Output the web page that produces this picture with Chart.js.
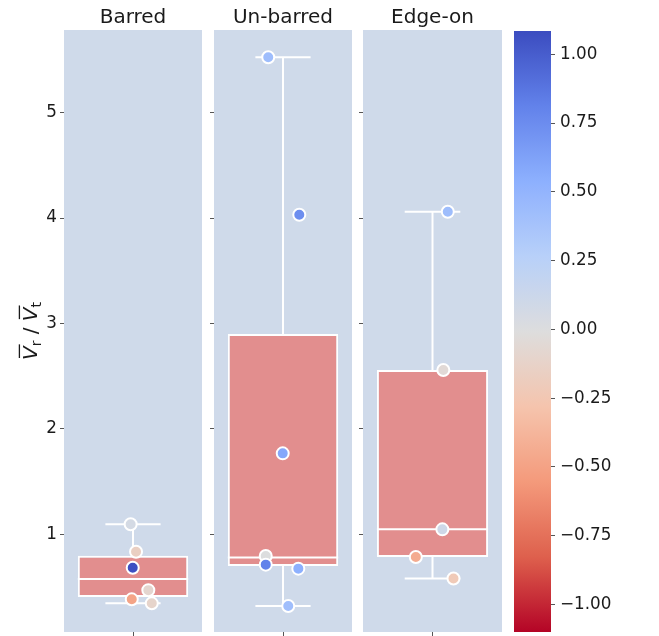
<!DOCTYPE html>
<html>
<head>
<meta charset="utf-8">
<script src="https://cdn.jsdelivr.net/npm/chart.js@4.4.1/dist/chart.umd.min.js"></script>
<style>
  body { margin: 0; background: #fff; }
  #wrap { position: relative; width: 659px; height: 636px; overflow: hidden; }
  #wrap canvas { position: absolute; top: 0; }
</style>
</head>
<body>
<div id="wrap">
  <canvas id="panel-0" width="204" height="636" style="left:0"></canvas>
  <canvas id="panel-1" width="150" height="636" style="left:204px"></canvas>
  <canvas id="panel-2" width="150" height="636" style="left:353px"></canvas>
  <canvas id="colorbar" width="159" height="636" style="left:500px"></canvas>
</div>
<script>
const groups = ['Barred', 'Un-barred', 'Edge-on'];
const yTicks = [1, 2, 3, 4, 5];
const yMin = 0.073, yMax = 5.785;

// box statistics per group
const whiskLow = [0.345, 0.32, 0.58];
const q1 = [0.405, 0.70, 0.785];
const median = [0.577, 0.78, 1.047];
const q3 = [0.797, 2.90, 2.559];
const whiskHigh = [1.095, 5.526, 4.06];

// single galaxies: ratio, horizontal jitter, delta MS
const barredRatio = [1.095, 0.835, 0.683, 0.47, 0.383, 0.345];
const barredJitter = [-0.017, 0.022, -0.002, 0.111, -0.009, 0.136];
const barredMS = [0.06, -0.16, 1.07, -0.09, -0.49, -0.11];

const unbarredRatio = [5.526, 4.032, 1.768, 0.794, 0.712, 0.674, 0.32];
const unbarredJitter = [-0.107, 0.118, -0.002, -0.125, -0.125, 0.111, 0.038];
const unbarredMS = [0.43, 0.74, 0.59, 0.0, 0.81, 0.54, 0.42];

const edgeRatio = [4.06, 2.559, 1.047, 0.785, 0.58];
const edgeJitter = [0.11, 0.078, 0.071, -0.12, 0.151];
const edgeMS = [0.43, -0.05, 0.1, -0.44, -0.22];

const cbTicks = [-1, -0.75, -0.5, -0.25, 0, 0.25, 0.5, 0.75, 1];
const cbMin = -1.1, cbMax = 1.085;

const pointSets = [
  [barredRatio, barredJitter, barredMS],
  [unbarredRatio, unbarredJitter, unbarredMS],
  [edgeRatio, edgeJitter, edgeMS]
];

const FONT = 'DejaVu Sans';
const PANEL_BG = '#cfdaea';
const BOX_FILL = '#e28e8e';
const TICK_COLOR = '#555';
const TEXT_COLOR = '#1a1a1a';

// coolwarm lookup (reversed below so that positive = blue)
const coolwarm = [
  [0, 59, 76, 192], [0.125, 98, 130, 234], [0.25, 141, 176, 254],
  [0.375, 184, 208, 249], [0.5, 221, 221, 221], [0.625, 245, 196, 173],
  [0.75, 244, 154, 123], [0.875, 222, 96, 77], [1, 180, 4, 38]
];

function msColor(v) {
  let p = (cbMax - v) / (cbMax - cbMin);
  p = Math.max(0, Math.min(1, p));
  for (let i = 1; i < coolwarm.length; i++) {
    const a = coolwarm[i - 1], b = coolwarm[i];
    if (p <= b[0]) {
      const f = (p - a[0]) / (b[0] - a[0]);
      const c = [1, 2, 3].map(k => Math.round(a[k] + (b[k] - a[k]) * f));
      return `rgb(${c[0]},${c[1]},${c[2]})`;
    }
  }
  return 'rgb(180,4,38)';
}

// no auto padding for tick labels: chart areas are placed by hand
function noPad(s) {
  s.paddingTop = 0; s.paddingBottom = 0; s.paddingLeft = 0; s.paddingRight = 0;
}

const panelBg = {
  id: 'panelBg',
  beforeDraw(chart) {
    const { ctx, chartArea: a } = chart;
    ctx.save();
    ctx.fillStyle = PANEL_BG;
    ctx.fillRect(a.left, a.top, a.right - a.left, a.bottom - a.top);
    ctx.restore();
  }
};

// y label: V-bar_r / V-bar_t, drawn as text pieces
const yLabel = {
  id: 'yLabel',
  afterDraw(chart) {
    const { ctx, chartArea } = chart;
    const cy = (chartArea.top + chartArea.bottom) / 2;
    const big = 20, small = 14;
    const parts = [
      { t: 'V', font: `italic ${big}px "${FONT}"`, bar: true, dy: 0 },
      { t: 'r', font: `${small}px "${FONT}"`, dy: 4 },
      { t: ' / ', font: `${big}px "${FONT}"`, dy: 0 },
      { t: 'V', font: `italic ${big}px "${FONT}"`, bar: true, dy: 0 },
      { t: 't', font: `${small}px "${FONT}"`, dy: 4 }
    ];
    ctx.save();
    ctx.translate(37, cy);
    ctx.rotate(-Math.PI / 2);
    ctx.fillStyle = TEXT_COLOR;
    ctx.strokeStyle = TEXT_COLOR;
    ctx.textBaseline = 'alphabetic';
    let total = 0;
    parts.forEach(p => { ctx.font = p.font; p.w = ctx.measureText(p.t).width; total += p.w; });
    let x = -total / 2;
    parts.forEach(p => {
      ctx.font = p.font;
      ctx.fillText(p.t, x, p.dy);
      if (p.bar) {
        ctx.lineWidth = 1.3;
        ctx.beginPath();
        ctx.moveTo(x + 2, -big * 0.73 - 3);
        ctx.lineTo(x + p.w + 2, -big * 0.73 - 3);
        ctx.stroke();
      }
      x += p.w;
    });
    ctx.restore();
  }
};

function whiteLine(points) {
  return {
    type: 'line',
    data: points,
    xAxisID: 'x',
    yAxisID: 'y',
    borderColor: '#fff',
    borderWidth: 2,
    pointRadius: 0,
    fill: false,
    tension: 0,
    order: 1
  };
}

function makePanel(i, axisWidth, padRight) {
  const [ratio, jitter, ms] = pointSets[i];
  const pts = ratio.map((r, k) => ({ x: jitter[k], y: r }));
  const cap = 0.2, half = 0.4;
  const plugins = [panelBg];
  if (i === 0) plugins.push(yLabel);

  new Chart(document.getElementById('panel-' + i), {
    type: 'bar',
    data: {
      labels: [groups[i]],
      datasets: [
        {
          type: 'scatter',
          data: pts,
          xAxisID: 'x',
          yAxisID: 'y',
          pointRadius: 6,
          pointHoverRadius: 6,
          pointBorderWidth: 2,
          pointBorderColor: '#fff',
          pointBackgroundColor: ms.map(msColor),
          order: 0
        },
        whiteLine([{ x: 0, y: q3[i] }, { x: 0, y: whiskHigh[i] }]),
        whiteLine([{ x: 0, y: q1[i] }, { x: 0, y: whiskLow[i] }]),
        whiteLine([{ x: -cap, y: whiskHigh[i] }, { x: cap, y: whiskHigh[i] }]),
        whiteLine([{ x: -cap, y: whiskLow[i] }, { x: cap, y: whiskLow[i] }]),
        whiteLine([{ x: -half, y: median[i] }, { x: half, y: median[i] }]),
        {
          type: 'bar',
          data: [[q1[i], q3[i]]],
          xAxisID: 'xb',
          yAxisID: 'y',
          backgroundColor: BOX_FILL,
          borderColor: '#fff',
          borderWidth: 2,
          borderSkipped: false,
          grouped: false,
          barPercentage: 0.8,
          categoryPercentage: 1,
          order: 2
        }
      ]
    },
    options: {
      responsive: false,
      animation: false,
      events: [],
      layout: { autoPadding: false, padding: { left: 0, right: padRight, top: 0, bottom: 0 } },
      plugins: {
        legend: { display: false },
        tooltip: { enabled: false },
        title: {
          display: true,
          fullSize: false,
          text: groups[i],
          color: TEXT_COLOR,
          font: { family: FONT, size: 20, weight: 'normal' },
          padding: { top: 6, bottom: 0 }
        }
      },
      scales: {
        x: {
          type: 'linear', min: -0.5, max: 0.5, offset: false, display: false,
          afterFit: noPad
        },
        xb: {
          type: 'category',
          position: 'bottom',
          offset: true,
          grid: { offset: false, drawOnChartArea: false, drawTicks: true, tickLength: 4, color: TICK_COLOR },
          border: { display: false },
          ticks: { display: false },
          afterFit: s => { noPad(s); s.height = 4; }
        },
        y: {
          type: 'linear',
          min: yMin,
          max: yMax,
          afterBuildTicks: s => { s.ticks = yTicks.map(v => ({ value: v })); },
          ticks: {
            display: i === 0,
            color: TEXT_COLOR,
            padding: 3,
            font: { family: FONT, size: 16.8 }
          },
          grid: { drawOnChartArea: false, drawTicks: true, tickLength: 4, color: TICK_COLOR },
          border: { display: false },
          afterFit: s => { noPad(s); s.width = axisWidth; }
        }
      }
    },
    plugins: plugins
  });
}

makePanel(0, 64, 2);
makePanel(1, 10, 2);
makePanel(2, 10, 1);

// colorbar
const cbLabel = {
  id: 'cbLabel',
  afterDraw(chart) {
    const { ctx, chartArea } = chart;
    ctx.save();
    ctx.translate(637, (chartArea.top + chartArea.bottom) / 2 - 1);
    ctx.rotate(-Math.PI / 2);
    ctx.fillStyle = TEXT_COLOR;
    ctx.font = `19px "${FONT}"`;
    ctx.textAlign = 'center';
    ctx.textBaseline = 'alphabetic';
    ctx.fillText('\u0394MS (dex)', 0, 0);
    ctx.restore();
  }
};

new Chart(document.getElementById('colorbar'), {
  type: 'bar',
  data: {
    labels: [''],
    datasets: [{
      data: [[cbMin, cbMax]],
      backgroundColor: c => {
        const chart = c.chart;
        if (!chart.chartArea) return msColor(0);
        const y = chart.scales.y;
        const top = y.getPixelForValue(cbMax), bottom = y.getPixelForValue(cbMin);
        const g = chart.ctx.createLinearGradient(0, top, 0, bottom);
        const n = 40;
        for (let k = 0; k <= n; k++) {
          const v = cbMax - (k / n) * (cbMax - cbMin);
          g.addColorStop(k / n, msColor(v));
        }
        return g;
      },
      borderWidth: 0,
      barPercentage: 1,
      categoryPercentage: 1
    }]
  },
  options: {
    responsive: false,
    animation: false,
    events: [],
    layout: { autoPadding: false, padding: { left: 14, right: 0, top: 31, bottom: 4 } },
    plugins: { legend: { display: false }, tooltip: { enabled: false } },
    scales: {
      x: { display: false, afterFit: noPad },
      y: {
        position: 'right',
        min: cbMin,
        max: cbMax,
        afterBuildTicks: s => { s.ticks = cbTicks.map(v => ({ value: v })); },
        ticks: {
          color: TEXT_COLOR,
          padding: 5,
          font: { family: FONT, size: 16.8 },
          callback: v => v.toFixed(2).replace('-', '\u2212')
        },
        grid: { drawOnChartArea: false, drawTicks: true, tickLength: 4, color: TICK_COLOR },
        border: { display: false },
        afterFit: s => { noPad(s); s.width = 108; }
      }
    }
  },
  plugins: [cbLabel]
});
</script>
</body>
</html>
